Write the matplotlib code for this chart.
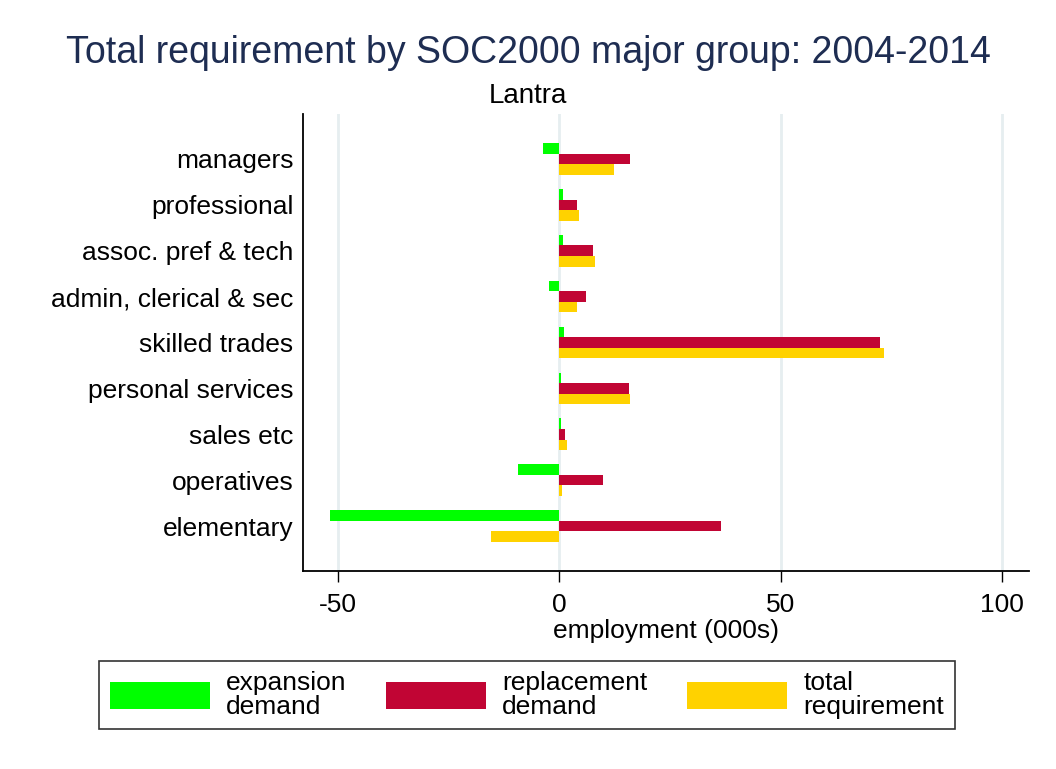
import numpy as np
import matplotlib
matplotlib.use('Agg')
import matplotlib.pyplot as plt

plt.rcParams['font.family'] = ['Liberation Sans', 'DejaVu Sans']

# data (employment, 000s)
groups = ['managers', 'professional', 'assoc. pref & tech', 'admin, clerical & sec',
          'skilled trades', 'personal services', 'sales etc', 'operatives', 'elementary']
expansion = [-3.7, 0.9, 0.7, -2.3, 1.0, 0.4, 0.4, -9.4, -51.9]
replacement = [16.0, 3.9, 7.6, 6.1, 72.4, 15.7, 1.3, 9.9, 36.5]
total = [12.3, 4.5, 8.0, 3.9, 73.5, 15.9, 1.7, 0.6, -15.4]
series_names = ['expansion\ndemand', 'replacement\ndemand', 'total\nrequirement']
colors = ['#00ff00', '#c10534', '#ffd200']

fig = plt.figure(figsize=(10.56, 7.69), dpi=100)
ax = fig.add_axes([303 / 1056, 1 - 571 / 769, (1029 - 303) / 1056, (571 - 114) / 769])

y = np.arange(len(groups))
h = 0.23
for i, (vals, col, name) in enumerate(zip([expansion, replacement, total], colors, series_names)):
    ax.barh(y + (i - 1) * h, vals, height=h, color=col, label=name, zorder=3)

ax.set_ylim(8.98, -0.98)
ax.set_xlim(-58.0, 106.2)
ax.set_yticks(y)
ax.set_yticklabels(groups, fontsize=19)
ax.set_xticks([-50, 0, 50, 100])
ax.set_xticklabels(['-50', '0', '50', '100'], fontsize=19)
ax.tick_params(axis='y', length=0, pad=7)
ax.tick_params(axis='x', length=8, width=1, pad=8)
ax.grid(axis='x', color='#e6eef0', linewidth=2, zorder=0)
ax.set_axisbelow(True)

for s in ['top', 'right']:
    ax.spines[s].set_visible(False)
for s in ['left', 'bottom']:
    ax.spines[s].set_linewidth(1.3)

ax.set_xlabel('employment (000s)', fontsize=19, labelpad=1)

fig.text(0.5, 1 - 63 / 769, 'Total requirement by SOC2000 major group: 2004-2014',
         ha='center', va='baseline', fontsize=27, color='#1e2d52')
fig.text(0.5, 1 - 103 / 769, 'Lantra', ha='center', va='baseline', fontsize=20)

leg = fig.legend(loc='center', bbox_to_anchor=((96 + 958) / 2 / 1056, 1 - 695 / 769),
                 ncol=3, fontsize=19, frameon=True, fancybox=False, edgecolor='black',
                 handlelength=3.8, handleheight=1.15, handletextpad=0.6,
                 columnspacing=1.5, borderpad=0.4)
leg.get_frame().set_linewidth(1.2)
for t in leg.get_texts():
    t.set_linespacing(0.95)

fig.savefig('out.png', dpi=100)
